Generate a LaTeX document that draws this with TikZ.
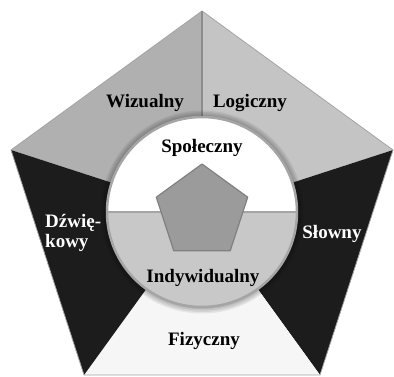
\documentclass[tikz,border=0pt]{standalone}
\usepackage{fontspec}
\setmainfont{Liberation Serif}
\usetikzlibrary{calc}
\definecolor{segvis}{RGB}{176,176,176}
\definecolor{seglog}{RGB}{196,196,196}
\definecolor{segdark}{RGB}{28,28,28}
\definecolor{segfiz}{RGB}{246,246,246}
\definecolor{ringline}{RGB}{165,165,165}
\definecolor{lowhalf}{RGB}{200,200,200}
\definecolor{corefill}{RGB}{155,155,155}
\definecolor{coreline}{RGB}{128,128,128}

\begin{document}
\begin{tikzpicture}[x=1pt,y=-1pt,
  lab/.style={font=\bfseries\fontsize{19}{20}\selectfont,inner sep=0pt,anchor=base},
  labw/.style={lab,text=white}]
  \useasboundingbox (0,0) rectangle (394,376);
  \coordinate (C) at (202,212);
  \coordinate (V1) at (202,11);
  \coordinate (V2) at (393,150);
  \coordinate (V3) at (320,375);
  \coordinate (V4) at (84,375);
  \coordinate (V5) at (11,150);
  \fill[segvis] (C) -- (V5) -- (V1) -- cycle;
  \fill[seglog] (C) -- (V1) -- (V2) -- cycle;
  \fill[segdark] (C) -- (V2) -- (V3) -- cycle;
  \fill[segfiz] (C) -- (V3) -- (V4) -- cycle;
  \fill[segdark] (C) -- (V4) -- (V5) -- cycle;
  \draw[ringline,line width=0.8pt,line join=round] (V1) -- (V2) -- (V3) -- (V4) -- (V5) -- cycle;
  \draw[ringline!85!black,line width=1.5pt] (V1) -- (C);
  \foreach \r in {97,98.5,100,101.5}
    \fill[black,opacity=0.07] (C) circle[radius=\r pt];
  \fill[white] (C) circle[radius=95pt];
  \fill[lowhalf] ($(C)+(-95,0)$) arc[start angle=180,end angle=360,radius=95pt] -- cycle;
  \draw[ringline,line width=2pt] ($(C)+(-95,0)$) -- ($(C)+(95,0)$);
  \draw[ringline,line width=2.5pt] (C) circle[radius=95pt];
  \coordinate (P1) at (202,164);
  \coordinate (P2) at (247.7,197.2);
  \coordinate (P3) at (230.2,250.8);
  \coordinate (P4) at (173.8,250.8);
  \coordinate (P5) at (156.3,197.2);
  \filldraw[fill=corefill,draw=coreline,line width=1.2pt,line join=round] (P1) -- (P2) -- (P3) -- (P4) -- (P5) -- cycle;
  \node[lab] (wiz) at (145,107) {Wizualny};
  \node[lab] (log) at (250,107) {Logiczny};
  \node[lab] (spo) at (202,152) {Społeczny};
  \node[labw,align=left,anchor=base west] (dzw) at (45,247) {Dźwię-\\kowy};
  \node[labw] (slo) at (332,238) {Słowny};
  \node[lab] (ind) at (203,282) {Indywidualny};
  \node[lab] (fiz) at (204,345) {Fizyczny};
\end{tikzpicture}
\end{document}
